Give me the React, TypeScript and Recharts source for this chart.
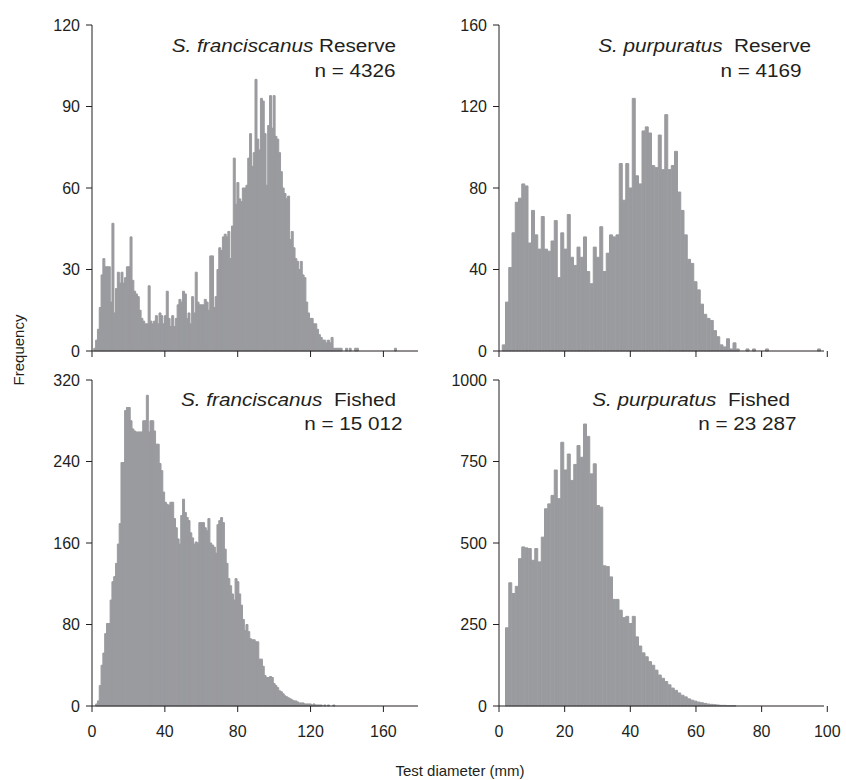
import { BarChart, Bar, XAxis, YAxis } from "recharts";

const FONT = "'Liberation Sans', Arial, Helvetica, sans-serif";
const BAR = "#9a9b9f";
const INK = "#231f20";

// counts per 1 mm test-diameter bin, bin i = [i, i+1) mm
const franReserve = [
  0, 1, 4, 8, 16, 28, 34, 31, 31, 31,
  18, 47, 14, 23, 29, 25, 29, 25, 27, 31,
  31, 42, 26, 22, 21, 20, 15, 12, 11, 10,
  10, 24, 11, 10, 11, 13, 10, 14, 13, 10,
  13, 22, 12, 9, 13, 9, 12, 17, 19, 18,
  22, 21, 12, 14, 10, 20, 14, 29, 18, 17,
  17, 17, 19, 18, 15, 35, 35, 16, 20, 30,
  38, 37, 42, 43, 42, 44, 34, 46, 71, 54,
  62, 56, 55, 60, 60, 61, 71, 80, 68, 73,
  100, 78, 74, 93, 92, 80, 61, 83, 94, 82,
  94, 79, 78, 73, 66, 60, 58, 56, 57, 41,
  44, 38, 34, 33, 30, 33, 28, 27, 18, 14,
  12, 12, 10, 10, 8, 6, 5, 4, 4, 3,
  4, 3, 5, 1, 1, 1, 1, 1, 0, 0,
  1, 0, 1, 0, 0, 1, 1, 0, 0, 0,
  0, 0, 0, 0, 0, 0, 0, 0, 0, 0,
  0, 0, 0, 0, 0, 0, 0, 1, 0, 0,
  0, 0, 0, 0, 0, 0, 0, 0, 0, 0,
];

const purpReserve = [
  0, 3, 24, 41, 58, 73, 75, 82, 81, 53,
  69, 57, 50, 66, 50, 49, 54, 64, 36, 58,
  50, 67, 46, 42, 51, 46, 56, 39, 33, 51,
  46, 61, 39, 48, 57, 56, 57, 92, 74, 92,
  80, 124, 86, 82, 108, 110, 107, 91, 90, 106,
  89, 116, 89, 91, 98, 78, 69, 57, 45, 43,
  34, 30, 23, 18, 16, 15, 10, 7, 3, 2,
  6, 1, 4, 1, 0, 0, 1, 0, 1, 0,
  0, 0, 1, 0, 0, 0, 0, 0, 0, 0,
  0, 0, 0, 0, 0, 0, 0, 0, 1, 0,
];

const franFished = [
  0, 0, 2, 5, 20, 40, 52, 71, 81, 81,
  104, 122, 127, 140, 159, 179, 239, 239, 290, 293,
  293, 280, 272, 270, 269, 269, 269, 269, 280, 280,
  305, 269, 280, 280, 270, 257, 257, 238, 231, 210,
  200, 198, 197, 200, 200, 184, 175, 164, 159, 187,
  203, 190, 185, 182, 170, 165, 159, 161, 160, 180,
  180, 180, 175, 172, 184, 160, 158, 156, 150, 178,
  182, 185, 180, 154, 140, 125, 118, 110, 104, 125,
  122, 110, 99, 85, 74, 80, 73, 66, 65, 65,
  63, 63, 46, 46, 39, 30, 28, 28, 29, 28,
  22, 20, 18, 15, 14, 12, 10, 9, 8, 7,
  6, 5, 5, 4, 3, 3, 3, 2, 2, 2,
  2, 1, 2, 1, 1, 1, 1, 0, 1, 0,
  1, 0, 0, 1, 0, 0, 0, 0, 0, 0,
  0, 0, 0, 0, 0, 0, 0, 0, 0, 0,
  0, 0, 0, 0, 0, 0, 0, 0, 0, 0,
  0, 0, 0, 0, 0, 0, 0, 0, 0, 0,
  0, 0, 0, 0, 0, 0, 0, 0, 0, 0,
];

const purpFished = [
  0, 0, 240, 378, 345, 367, 452, 488, 485, 483,
  447, 483, 442, 518, 605, 620, 646, 724, 636, 809,
  724, 773, 692, 741, 799, 763, 865, 827, 712, 743,
  615, 610, 430, 428, 396, 327, 327, 294, 271, 275,
  253, 275, 212, 184, 163, 151, 136, 125, 110, 95,
  85, 75, 65, 55, 48, 40, 33, 28, 22, 18,
  15, 12, 10, 8, 6, 5, 4, 3, 2, 2,
  1, 1, 1, 0, 0, 0, 0, 0, 0, 0,
  0, 0, 0, 0, 0, 0, 0, 0, 0, 0,
  0, 0, 0, 0, 0, 0, 0, 0, 0, 0,
];

const franTicksX = [0, 40, 80, 120, 160];
const purpTicksX = [0, 20, 40, 60, 80, 100];
const franReserveTicksY = [0, 30, 60, 90, 120];
const purpReserveTicksY = [0, 40, 80, 120, 160];
const franFishedTicksY = [0, 80, 160, 240, 320];
const purpFishedTicksY = [0, 250, 500, 750, 1000];

type PanelProps = {
  counts: number[];
  xMax: number;
  xTicks: number[];
  yTicks: number[];
  xLabels: boolean;
  left: number;
  top: number;
  yWidth: number;
  plotW: number;
};

const RIGHT_PAD = 20;

function Panel(p: PanelProps) {
  const rows = p.counts.map((c, i) => ({ bin: i, count: c }));
  const xH = p.xLabels ? 40 : 20;
  const height = 25 + 326 + xH;
  const width = p.yWidth + p.plotW + RIGHT_PAD;
  const tickStyle = { fill: INK, fontSize: 16, fontFamily: FONT };
  return (
    <div style={{ position: "absolute", left: p.left, top: p.top, width, height }}>
      <BarChart
        width={width}
        height={height}
        data={rows}
        margin={{ top: 25, right: RIGHT_PAD, bottom: 0, left: 0 }}
        barCategoryGap={0}
        barGap={0}
      >
        <XAxis xAxisId="bins" dataKey="bin" type="category" hide height={0} />
        <XAxis
          xAxisId="mm"
          type="number"
          domain={[0, p.xMax]}
          ticks={p.xTicks}
          allowDataOverflow
          interval={0}
          height={xH}
          stroke={INK}
          tickSize={6}
          tickMargin={14}
          tick={tickStyle}
          tickFormatter={p.xLabels ? (v: number) => String(v) : () => ""}
        />
        <YAxis
          type="number"
          domain={[0, p.yTicks[p.yTicks.length - 1]]}
          ticks={p.yTicks}
          interval={0}
          width={p.yWidth}
          stroke={INK}
          tickSize={6}
          tickMargin={6}
          tick={tickStyle}
        />
        <Bar
          dataKey="count"
          xAxisId="bins"
          fill={BAR}
          stroke={BAR}
          strokeWidth={1}
          isAnimationActive={false}
        />
      </BarChart>
    </div>
  );
}

// one annotation line, right edge and baseline in page pixels
function Note({ right, baseline, children }: { right: number; baseline: number; children: any }) {
  return (
    <div
      style={{
        position: "absolute",
        right: 846 - right,
        top: baseline - 15.2,
        fontFamily: FONT,
        fontSize: 18,
        lineHeight: "18px",
        color: INK,
        whiteSpace: "nowrap",
        transform: "scaleX(1.15)",
        transformOrigin: "right center",
      }}
    >
      {children}
    </div>
  );
}

export default function App() {
  return (
    <div
      style={{
        position: "absolute",
        left: 0,
        top: 0,
        width: 846,
        height: 780,
        background: "#fff",
        overflow: "hidden",
      }}
    >
      <Panel counts={franReserve} xMax={180} xTicks={franTicksX} yTicks={franReserveTicksY}
        xLabels={false} left={30} top={0} yWidth={62} plotW={326} />
      <Panel counts={purpReserve} xMax={100} xTicks={purpTicksX} yTicks={purpReserveTicksY}
        xLabels={false} left={439} top={0} yWidth={60} plotW={325} />
      <Panel counts={franFished} xMax={180} xTicks={franTicksX} yTicks={franFishedTicksY}
        xLabels={true} left={30} top={355} yWidth={62} plotW={326} />
      <Panel counts={purpFished} xMax={100} xTicks={purpTicksX} yTicks={purpFishedTicksY}
        xLabels={true} left={439} top={355} yWidth={60} plotW={325} />

      <Note right={396} baseline={52}>
        <i>S. franciscanus</i> Reserve
      </Note>
      <Note right={396} baseline={77}>n = 4326</Note>
      <Note right={811} baseline={52}>
        <i>S. purpuratus</i>&nbsp; Reserve
      </Note>
      <Note right={802} baseline={77}>n = 4169</Note>
      <Note right={396} baseline={406}>
        <i>S. franciscanus</i>&nbsp; Fished
      </Note>
      <Note right={403} baseline={430}>n = 15 012</Note>
      <Note right={790} baseline={406}>
        <i>S. purpuratus</i>&nbsp; Fished
      </Note>
      <Note right={797} baseline={430}>n = 23 287</Note>

      <div
        style={{
          position: "absolute",
          left: 18,
          top: 350,
          transform: "translate(-50%, -50%) rotate(-90deg)",
          fontFamily: FONT,
          fontSize: 15,
          color: INK,
          whiteSpace: "nowrap",
        }}
      >
        Frequency
      </div>
      <div
        style={{
          position: "absolute",
          left: 460,
          top: 770,
          transform: "translate(-50%, -50%)",
          fontFamily: FONT,
          fontSize: 15,
          color: INK,
          whiteSpace: "nowrap",
        }}
      >
        Test diameter (mm)
      </div>
    </div>
  );
}
